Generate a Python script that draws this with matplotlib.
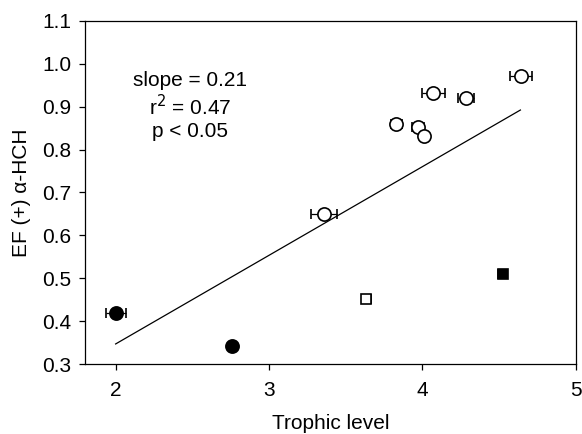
import matplotlib
matplotlib.use("Agg")
import matplotlib.pyplot as plt
import numpy as np

plt.rcParams['font.family'] = ['Liberation Sans', 'DejaVu Sans']

# Open circles
oc_x = [3.36, 3.83, 3.97, 4.01, 4.07, 4.285, 4.645]
oc_y = [0.65, 0.86, 0.852, 0.832, 0.931, 0.921, 0.972]
oc_xerr = [0.083, 0.035, 0.04, 0.0, 0.075, 0.05, 0.07]
# Filled circles
fc_x = [2.0, 2.756]
fc_y = [0.42, 0.342]
fc_xerr = [0.065, 0.0]
# Open square
os_x = [3.635]
os_y = [0.451]
os_xerr = [0.03]
# Filled square
fs_x = [4.525]
fs_y = [0.511]
fs_xerr = [0.03]

# Regression line
line_x = [2.0, 4.64]
slope = 0.2065
intercept = 0.347 - slope * 2.0

fig = plt.figure(figsize=(5.82, 4.34), dpi=100)
ax = fig.add_axes([0.146, 0.161, 0.843, 0.791])

lx = np.array(line_x)
ax.plot(lx, intercept + slope * lx, color='black', lw=0.9, zorder=2)

ekw = dict(ecolor='black', elinewidth=0.9, capsize=3.5, capthick=0.9, ls='none', zorder=3)
ax.errorbar(oc_x, oc_y, xerr=oc_xerr, fmt='o', ms=9.5, mfc='white', mec='black', mew=1.2, **ekw)
ax.errorbar(fc_x, fc_y, xerr=fc_xerr, fmt='o', ms=9.5, mfc='black', mec='black', mew=1.2, **ekw)
ax.errorbar(os_x, os_y, xerr=os_xerr, fmt='s', ms=7.5, mfc='white', mec='black', mew=1.2, **ekw)
ax.errorbar(fs_x, fs_y, xerr=fs_xerr, fmt='s', ms=7.5, mfc='black', mec='black', mew=1.2, **ekw)

ax.set_xlim(1.8, 5.0)
ax.set_ylim(0.3, 1.1)
ax.set_xticks([2, 3, 4, 5])
ax.set_yticks(np.round(np.arange(0.3, 1.11, 0.1), 1))
ax.set_yticklabels([f"{v:.1f}" for v in np.arange(0.3, 1.11, 0.1)])
ax.tick_params(direction='out', length=4, width=0.9, labelsize=15)
ax.tick_params(axis='x', pad=8)
ax.tick_params(axis='y', pad=6)
for s in ax.spines.values():
    s.set_linewidth(0.9)

ax.set_xlabel('Trophic level', fontsize=15, labelpad=10)
ax.set_ylabel('EF (+) α-HCH', fontsize=15, labelpad=8)

ax.text(0.214, 0.752, 'slope = 0.21\nr$^2$ = 0.47\np < 0.05', transform=ax.transAxes,
        ha='center', va='center', fontsize=15, linespacing=1.2)

fig.savefig('out.png', dpi=100)
